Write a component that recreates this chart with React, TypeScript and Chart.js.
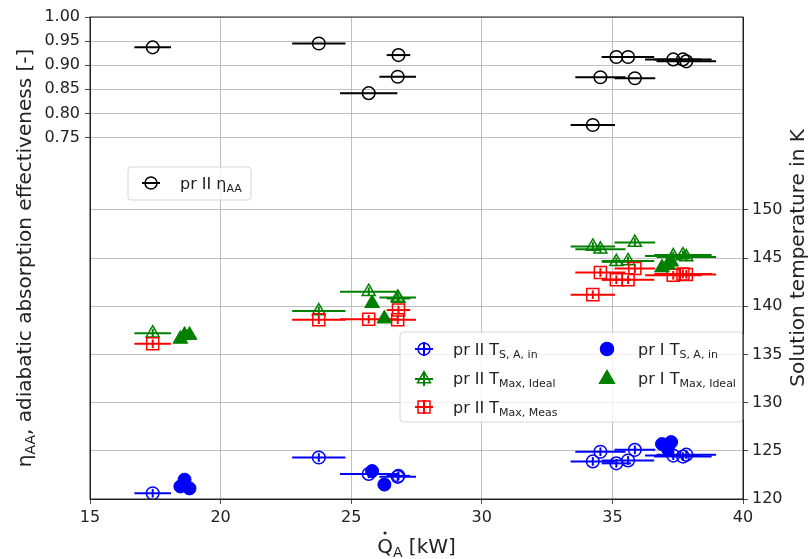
import React, { useEffect, useRef } from 'react';
import { Chart, registerables } from 'chart.js';
Chart.register(...registerables);

const FAM = '"DejaVu Sans", sans-serif';

// ---- data: process II (open markers, horizontal error bars in Q_A) ----
const qII = [17.40, 23.76, 25.67, 26.81, 26.78, 34.25, 34.54, 35.15, 35.60, 35.86, 37.33, 37.70, 37.83];
const qErrII = [0.70, 1.02, 1.10, 0.45, 0.70, 0.85, 0.96, 0.56, 1.00, 0.78, 1.08, 1.10, 1.14];
const etaII = [0.937, 0.945, 0.842, 0.921, 0.876, 0.776, 0.875, 0.917, 0.917, 0.873, 0.912, 0.912, 0.908];
const tInII = [120.6, 124.3, 122.6, 122.4, 122.3, 123.9, 124.9, 123.7, 124.0, 125.1, 124.5, 124.4, 124.6];
const tIdealII = [137.2, 139.5, 141.5, 140.8, 140.9, 146.2, 145.9, 144.6, 144.7, 146.6, 145.2, 145.3, 145.1];
const tMeasII = [136.1, 138.6, 138.65, 139.6, 138.6, 141.2, 143.5, 142.75, 142.75, 143.9, 143.2, 143.35, 143.3];
const tErrII = 0.45;

// ---- data: process I (filled markers) ----
const qI = [18.46, 18.62, 18.81, 25.80, 26.27, 36.90, 37.12, 37.25];
const tInI = [121.3, 122.0, 121.1, 122.9, 121.5, 125.7, 125.2, 125.9];
const tIdealI = [136.6, 137.0, 137.0, 140.3, 138.7, 144.0, 144.3, 144.6];

// ---- ticks ----
const xTicks = [15, 20, 25, 30, 35, 40];
const etaTicks = [0.75, 0.80, 0.85, 0.90, 0.95, 1.00];
const tTicks = [120, 125, 130, 135, 140, 145, 150];

const BLUE = '#0000ff';
const GREEN = '#008000';
const RED = '#ff0000';
const BLACK = '#000000';

const pts = (xs: number[], ys: number[]) => xs.map((x, i) => ({ x, y: ys[i] }));

type Part = [string, boolean];

function richWidth(ctx: CanvasRenderingContext2D, parts: Part[], size: number, subSize: number) {
  let w = 0;
  for (const [t, sub] of parts) {
    ctx.font = `${sub ? subSize : size}px ${FAM}`;
    w += ctx.measureText(t).width;
  }
  return w;
}

function drawRich(ctx: CanvasRenderingContext2D, parts: Part[], x: number, y: number, size: number, subSize: number, subOff: number, color: string) {
  ctx.fillStyle = color;
  ctx.textBaseline = 'alphabetic';
  ctx.textAlign = 'left';
  let cx = x;
  for (const [t, sub] of parts) {
    ctx.font = `${sub ? subSize : size}px ${FAM}`;
    ctx.fillText(t, cx, sub ? y + subOff : y);
    cx += ctx.measureText(t).width;
  }
  return cx - x;
}

function marker(ctx: CanvasRenderingContext2D, style: string, x: number, y: number, r: number, color: string, filled: boolean, lw = 1.5) {
  ctx.save();
  ctx.beginPath();
  if (style === 'circle') ctx.arc(x, y, r, 0, Math.PI * 2);
  else if (style === 'triangle') {
    ctx.moveTo(x, y - r);
    ctx.lineTo(x + r * 0.866, y + r * 0.5);
    ctx.lineTo(x - r * 0.866, y + r * 0.5);
    ctx.closePath();
  } else {
    const s = r * Math.SQRT1_2;
    ctx.rect(x - s, y - s, 2 * s, 2 * s);
  }
  if (filled) {
    ctx.fillStyle = color;
    ctx.fill();
  }
  ctx.lineWidth = lw;
  ctx.strokeStyle = color;
  ctx.stroke();
  ctx.restore();
}

const errorBarPlugin = {
  id: 'errbars',
  beforeDatasetsDraw(chart: any) {
    const ctx = chart.ctx as CanvasRenderingContext2D;
    const xs = chart.scales.x;
    chart.data.datasets.forEach((ds: any) => {
      if (!ds.xErr) return;
      const ys = chart.scales[ds.yAxisID];
      ctx.save();
      ctx.strokeStyle = ds.borderColor;
      ctx.lineWidth = 2;
      ds.data.forEach((p: any, j: number) => {
        const e = ds.xErr[j];
        const py = ys.getPixelForValue(p.y);
        const px = xs.getPixelForValue(p.x);
        ctx.beginPath();
        ctx.moveTo(xs.getPixelForValue(p.x - e), py);
        ctx.lineTo(xs.getPixelForValue(p.x + e), py);
        ctx.stroke();
        if (ds.yErr) {
          ctx.beginPath();
          ctx.moveTo(px, ys.getPixelForValue(p.y - ds.yErr));
          ctx.lineTo(px, ys.getPixelForValue(p.y + ds.yErr));
          ctx.stroke();
        }
      });
      ctx.restore();
    });
  },
};

function legendBox(ctx: CanvasRenderingContext2D, x: number, y: number, w: number, h: number) {
  ctx.save();
  ctx.beginPath();
  const r = 3;
  ctx.moveTo(x + r, y);
  ctx.arcTo(x + w, y, x + w, y + h, r);
  ctx.arcTo(x + w, y + h, x, y + h, r);
  ctx.arcTo(x, y + h, x, y, r);
  ctx.arcTo(x, y, x + w, y, r);
  ctx.closePath();
  ctx.fillStyle = 'rgba(255,255,255,0.8)';
  ctx.fill();
  ctx.strokeStyle = '#d6d6d6';
  ctx.lineWidth = 1;
  ctx.stroke();
  ctx.restore();
}

function legendErrMarker(ctx: CanvasRenderingContext2D, style: string, x: number, y: number, r: number, color: string, vert: boolean) {
  ctx.save();
  ctx.strokeStyle = color;
  ctx.lineWidth = 2;
  ctx.beginPath();
  ctx.moveTo(x - 9, y);
  ctx.lineTo(x + 9, y);
  if (vert) {
    ctx.moveTo(x, y - 7);
    ctx.lineTo(x, y + 7);
  }
  ctx.stroke();
  ctx.restore();
  marker(ctx, style, x, y, r, color, false);
}

const overlayPlugin = {
  id: 'overlay',
  afterDatasetsDraw(chart: any) {
    const ctx = chart.ctx as CanvasRenderingContext2D;
    ctx.save();
    // legend 1 (left axis)
    legendBox(ctx, 128, 167, 123, 33);
    legendErrMarker(ctx, 'circle', 151, 183, 6, BLACK, false);
    drawRich(ctx, [['pr II η', false], ['AA', true]], 180, 189, 16, 11, 3, '#222');

    // legend 2 (right axis)
    legendBox(ctx, 400, 332, 343, 90);
    const rows = [349, 378, 407];
    legendErrMarker(ctx, 'circle', 424, rows[0], 6, BLUE, true);
    drawRich(ctx, [['pr II T', false], ['S, A, in', true]], 453, rows[0] + 6, 16, 11, 3, '#222');
    legendErrMarker(ctx, 'triangle', 424, rows[1] + 1, 7.5, GREEN, true);
    drawRich(ctx, [['pr II T', false], ['Max, Ideal', true]], 453, rows[1] + 6, 16, 11, 3, '#222');
    legendErrMarker(ctx, 'rect', 424, rows[2], 8.5, RED, true);
    drawRich(ctx, [['pr II T', false], ['Max, Meas', true]], 453, rows[2] + 6, 16, 11, 3, '#222');
    marker(ctx, 'circle', 607, rows[0], 6.5, BLUE, true);
    drawRich(ctx, [['pr I T', false], ['S, A, in', true]], 638, rows[0] + 6, 16, 11, 3, '#222');
    marker(ctx, 'triangle', 607, rows[1] + 1, 8.5, GREEN, true);
    drawRich(ctx, [['pr I T', false], ['Max, Ideal', true]], 638, rows[1] + 6, 16, 11, 3, '#222');
    ctx.restore();
  },
  afterDraw(chart: any) {
    const ctx = chart.ctx as CanvasRenderingContext2D;
    const a = chart.chartArea;
    ctx.save();
    // frame
    ctx.strokeStyle = '#222';
    ctx.lineWidth = 1;
    ctx.strokeRect(a.left, a.top, a.right - a.left, a.bottom - a.top);

    const cy = (a.top + a.bottom) / 2;
    // left title
    const leftParts: Part[] = [['η', false], ['AA', true], [', adiabatic absorption effectiveness [-]', false]];
    ctx.save();
    ctx.translate(31, cy);
    ctx.rotate(-Math.PI / 2);
    const lw = richWidth(ctx, leftParts, 20, 14);
    drawRich(ctx, leftParts, -lw / 2, 0, 20, 14, 4, '#222');
    ctx.restore();

    // right title
    const rightParts: Part[] = [['Solution temperature in K', false]];
    ctx.save();
    ctx.translate(804, cy);
    ctx.rotate(-Math.PI / 2);
    const rw = richWidth(ctx, rightParts, 20, 14);
    drawRich(ctx, rightParts, -rw / 2, 0, 20, 14, 4, '#222');
    ctx.restore();

    // bottom title
    const botParts: Part[] = [['Q', false], ['A', true], [' [kW]', false]];
    const bw = richWidth(ctx, botParts, 20, 14);
    const bx = (a.left + a.right) / 2 - bw / 2;
    drawRich(ctx, botParts, bx, 553, 20, 14, 4, '#222');
    ctx.font = `20px ${FAM}`;
    const qw = ctx.measureText('Q').width;
    ctx.beginPath();
    ctx.arc(bx + qw / 2, 533, 1.6, 0, Math.PI * 2);
    ctx.fillStyle = '#222';
    ctx.fill();
    ctx.restore();
  },
};

export default function App() {
  const ref = useRef<HTMLCanvasElement>(null);
  useEffect(() => {
    if (!ref.current) return;
    const gridCommon = { color: '#b0b0b0', lineWidth: 0.8, tickLength: 5, tickColor: '#222' };
    const tickFont = { family: FAM, size: 16 };
    const chart = new Chart(ref.current, {
      type: 'scatter',
      data: {
        datasets: [
          {
            label: 'pr II eta', data: pts(qII, etaII), yAxisID: 'y', xErr: qErrII,
            pointStyle: 'circle', pointRadius: 6.3, borderColor: BLACK, backgroundColor: 'rgba(0,0,0,0)', borderWidth: 1.5,
          } as any,
          {
            label: 'pr I T ideal', data: pts(qI, tIdealI), yAxisID: 'y2',
            pointStyle: 'triangle', pointRadius: 8.5, borderColor: GREEN, backgroundColor: GREEN, borderWidth: 1,
          } as any,
          {
            label: 'pr I T in', data: pts(qI, tInI), yAxisID: 'y2',
            pointStyle: 'circle', pointRadius: 6.5, borderColor: BLUE, backgroundColor: BLUE, borderWidth: 1,
          } as any,
          {
            label: 'pr II T meas', data: pts(qII, tMeasII), yAxisID: 'y2', xErr: qErrII, yErr: tErrII,
            pointStyle: 'rect', pointRadius: 8.5, borderColor: RED, backgroundColor: 'rgba(0,0,0,0)', borderWidth: 1.5,
          } as any,
          {
            label: 'pr II T ideal', data: pts(qII, tIdealII), yAxisID: 'y2', xErr: qErrII, yErr: tErrII,
            pointStyle: 'triangle', pointRadius: 7.5, borderColor: GREEN, backgroundColor: 'rgba(0,0,0,0)', borderWidth: 1.5,
          } as any,
          {
            label: 'pr II T in', data: pts(qII, tInII), yAxisID: 'y2', xErr: qErrII, yErr: tErrII,
            pointStyle: 'circle', pointRadius: 6.3, borderColor: BLUE, backgroundColor: 'rgba(0,0,0,0)', borderWidth: 1.5,
          } as any,
        ],
      },
      options: {
        animation: false,
        responsive: false,
        layout: { padding: { top: 17, left: 0, right: 0, bottom: 0 } },
        plugins: { legend: { display: false }, tooltip: { enabled: false } },
        scales: {
          x: {
            type: 'linear', min: 15, max: 40,
            afterBuildTicks: (s: any) => { s.ticks = xTicks.map((v) => ({ value: v })); },
            afterFit: (s: any) => { s.height = 60; },
            grid: gridCommon,
            border: { color: '#222', width: 1 },
            ticks: { font: tickFont, color: '#222', padding: 4, maxRotation: 0 },
          },
          y: {
            type: 'linear', position: 'left', min: 0, max: 1,
            afterBuildTicks: (s: any) => { s.ticks = etaTicks.map((v) => ({ value: v })); },
            afterFit: (s: any) => { s.width = 90; },
            grid: gridCommon,
            border: { color: '#222', width: 1 },
            ticks: { font: tickFont, color: '#222', padding: 5, callback: (v: any) => Number(v).toFixed(2) },
          },
          y2: {
            type: 'linear', position: 'right', min: 120, max: 170,
            afterBuildTicks: (s: any) => { s.ticks = tTicks.map((v) => ({ value: v })); },
            afterFit: (s: any) => { s.width = 67; },
            grid: gridCommon,
            border: { color: '#222', width: 1 },
            ticks: { font: tickFont, color: '#222', padding: 4 },
          },
        },
      } as any,
      plugins: [errorBarPlugin, overlayPlugin],
    });
    return () => chart.destroy();
  }, []);
  return (
    <div style={{ position: 'fixed', left: 0, top: 0, width: 810, height: 559, background: '#fff' }}>
      <canvas ref={ref} width={810} height={559} style={{ display: 'block' }} />
    </div>
  );
}
